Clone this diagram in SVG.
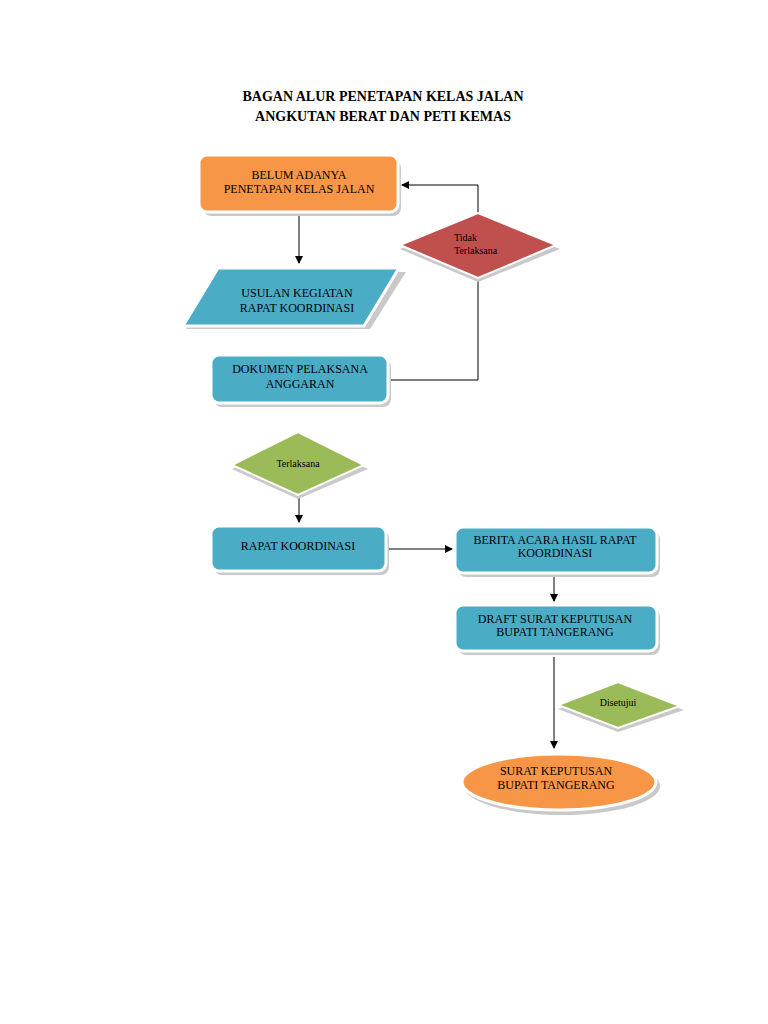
<svg xmlns="http://www.w3.org/2000/svg" width="768" height="1024" viewBox="0 0 768 1024">
<defs>
<style>
text{font-family:"Liberation Serif",serif;fill:#000;text-anchor:middle}
.t{font-size:14px;font-weight:bold}
.n{font-size:12px}
.s{font-size:10px}
.blue{fill:#4bacc6;stroke:#fff;stroke-width:3}
.org{fill:#f79646;stroke:#fff;stroke-width:3}
.sh{fill:#c9c9c9}
.c{stroke:#000;stroke-width:1;fill:none}
</style>
<marker id="a" markerWidth="8" markerHeight="8" refX="7" refY="4" orient="auto" markerUnits="userSpaceOnUse"><path d="M0,0L8,4L0,8z" fill="#000"/></marker>
</defs>
<rect width="768" height="1024" fill="#fff"/>
<text class="t" x="383" y="101">BAGAN ALUR PENETAPAN KELAS JALAN</text>
<text class="t" x="383" y="121">ANGKUTAN BERAT DAN PETI KEMAS</text>
<g id="connectors">
<path class="c" d="M299,214V263" marker-end="url(#a)"/>
<path class="c" d="M390,380H478V278"/>
<path class="c" d="M478,213V185H402" marker-end="url(#a)"/>
<path class="c" d="M299,497V522" marker-end="url(#a)"/>
<path class="c" d="M388,549H452" marker-end="url(#a)"/>
<path class="c" d="M554,575V601" marker-end="url(#a)"/>
<path class="c" d="M554,657V748" marker-end="url(#a)"/>
</g>
<g id="n1"><rect class="sh" x="203" y="160" width="198" height="56" rx="8"/><rect class="org" x="199" y="155" width="199" height="57" rx="8"/><text class="n" x="299" y="179">BELUM ADANYA</text><text class="n" x="299" y="193">PENETAPAN KELAS JALAN</text></g>
<g id="n2"><polygon class="sh" points="221,272 406,272 370,329 186,329"/><polygon class="blue" points="218,268 399,268 364,326 183,326"/><text class="n" x="297" y="297">USULAN KEGIATAN</text><text class="n" x="297" y="312">RAPAT  KOORDINASI</text></g>
<g id="n3"><polygon class="sh" points="400,249 478,217 560,249 478,282"/><polygon points="400,245 478,213 556,245 478,278" fill="#c0504d" stroke="#fff" stroke-width="2"/><text class="s" x="466" y="241" style="text-anchor:start" transform="translate(-12,0)">Tidak</text><text class="s" x="454" y="254" style="text-anchor:start">Terlaksana</text></g>
<g id="n4"><rect class="sh" x="214" y="359" width="177" height="48" rx="8"/><rect class="blue" x="211" y="355" width="177" height="48" rx="8"/><text class="n" x="300" y="373">DOKUMEN PELAKSANA</text><text class="n" x="300" y="388">ANGGARAN</text></g>
<g id="n5"><polygon class="sh" points="232,469 298,436 368,469 298,499"/><polygon points="232,465 298,432 364,465 298,495" fill="#9bbb59" stroke="#fff" stroke-width="2"/><text class="s" x="298" y="467">Terlaksana</text></g>
<g id="n6"><rect class="sh" x="214" y="530" width="175" height="45" rx="8"/><rect class="blue" x="211" y="526" width="175" height="45" rx="8"/><text class="n" x="298" y="550">RAPAT KOORDINASI</text></g>
<g id="n7"><rect class="sh" x="458" y="531" width="202" height="46" rx="8"/><rect class="blue" x="455" y="527" width="202" height="46" rx="8"/><text class="n" x="555" y="544">BERITA ACARA HASIL RAPAT</text><text class="n" x="555" y="557">KOORDINASI</text></g>
<g id="n8"><rect class="sh" x="458" y="609" width="202" height="46" rx="8"/><rect class="blue" x="455" y="605" width="202" height="46" rx="8"/><text class="n" x="555" y="623">DRAFT SURAT KEPUTUSAN</text><text class="n" x="555" y="636">BUPATI TANGERANG</text></g>
<g id="n9"><polygon class="sh" points="558,709 618,686 684,710 618,732"/><polygon points="558,705 618,682 680,706 618,728" fill="#9bbb59" stroke="#fff" stroke-width="2"/><text class="s" x="618" y="706">Disetujui</text></g>
<g id="n10"><ellipse class="sh" cx="562" cy="786" rx="98" ry="29"/><ellipse class="org" cx="559" cy="782" rx="97" ry="28"/><text class="n" x="556" y="775">SURAT KEPUTUSAN</text><text class="n" x="556" y="789">BUPATI TANGERANG</text></g>
</svg>
